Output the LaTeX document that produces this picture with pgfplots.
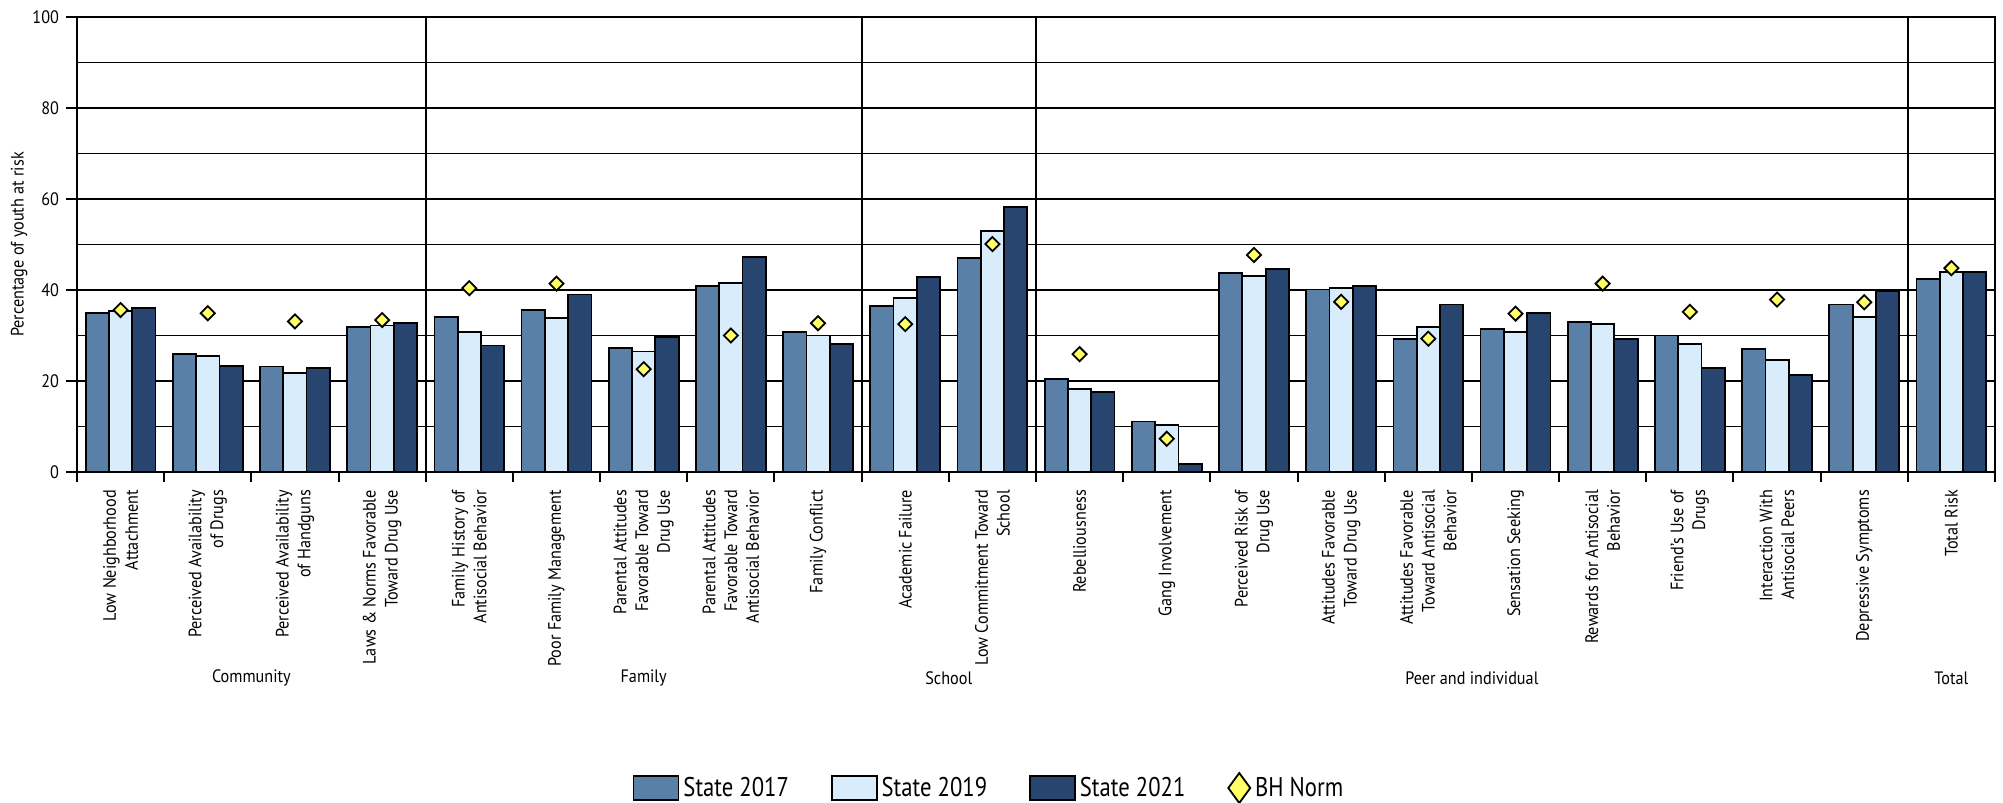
\documentclass[border=0pt]{standalone}
\usepackage{fontspec}
\setmainfont{PT Sans}[FakeStretch=0.9]
\newfontfamily\legfont{PT Sans}[FakeStretch=0.84]
\usepackage{pgfplots}
\pgfplotsset{compat=1.18}
\usepackage{pgfplotstable}

\definecolor{c17}{HTML}{5B80A8}
\definecolor{c19}{HTML}{D9ECFC}
\definecolor{c21}{HTML}{27456F}
\definecolor{bhyellow}{HTML}{FFFF66}

% x = category index, a/b/c = State 2017/2019/2021, n = BH Norm
\pgfplotstableread{
x a b c n
0 34.9 35.3 36.0 35.6
1 25.9 25.5 23.3 34.9
2 23.2 21.7 22.9 33.1
3 31.8 32.2 32.7 33.4
4 34.1 30.7 27.8 40.4
5 35.6 33.8 39.0 41.4
6 27.3 26.5 29.6 22.6
7 40.9 41.6 47.3 30.0
8 30.7 30.0 28.1 32.7
9 36.4 38.3 42.8 32.5
10 47.0 53.0 58.2 50.1
11 20.5 18.3 17.5 25.9
12 11.1 10.3 1.8 7.3
13 43.8 43.1 44.7 47.7
14 40.1 40.5 40.9 37.4
15 29.2 31.9 36.8 29.3
16 31.4 30.7 34.9 34.8
17 33.0 32.6 29.2 41.4
18 30.0 28.1 22.8 35.2
19 27.0 24.7 21.4 37.9
20 36.8 34.1 39.8 37.3
21 42.4 43.9 43.9 44.8
}\data

\begin{document}
\begin{tikzpicture}
\begin{axis}[
    name=ax,
    scale only axis,
    width=959pt, height=227.5pt,
    xmin=-0.5, xmax=21.5,
    ymin=0, ymax=100,
    clip=false,
    axis line style={line width=1.1pt},
    tick align=outside,
    major tick length=5.5pt,
    minor tick length=5pt,
    every tick/.style={black, line width=1pt},
    xtick={0,...,21},
    major x tick style={draw=none},
    minor xtick={-0.5,0.5,...,21.5},
    xtick pos=lower,
    ytick pos=left,
    ytick={0,20,...,100},
    minor ytick={10,30,...,90},
    minor y tick style={draw=none},
    ymajorgrids, yminorgrids,
    major grid style={black, line width=0.9pt},
    minor grid style={black, line width=0.9pt},
    extra x ticks={3.5,8.5,10.5,20.5},
    extra x tick labels={},
    extra x tick style={grid=major},
    /pgf/number format/assume math mode=true,
    yticklabel style={font=\fontsize{9}{10}\selectfont},
    xticklabels={
        {Low Neighborhood\\Attachment},
        {Perceived Availability\\of Drugs},
        {Perceived Availability\\of Handguns},
        {Laws \& Norms Favorable\\Toward Drug Use},
        {Family History of\\Antisocial Behavior},
        {Poor Family Management},
        {Parental Attitudes\\Favorable Toward\\Drug Use},
        {Parental Attitudes\\Favorable Toward\\Antisocial Behavior},
        {Family Conflict},
        {Academic Failure},
        {Low Commitment Toward\\School},
        {Rebelliousness},
        {Gang Involvement},
        {Perceived Risk of\\Drug Use},
        {Attitudes Favorable\\Toward Drug Use},
        {Attitudes Favorable\\Toward Antisocial\\Behavior},
        {Sensation Seeking},
        {Rewards for Antisocial\\Behavior},
        {Friend's Use of\\Drugs},
        {Interaction With\\Antisocial Peers},
        {Depressive Symptoms},
        {Total Risk}},
    xticklabel style={rotate=90, anchor=east, align=right,
        font=\fontsize{9}{10.9}\selectfont},
    every axis y label/.style={at={(axis description cs:-0.0302,0.5)},
        rotate=90, anchor=center},
    ylabel={Percentage of youth at risk},
    ylabel style={font=\fontsize{9}{10}\selectfont},
    legend columns=4,
    legend style={draw=none, at={(0.476,-0.6945)}, anchor=center,
        font=\legfont\fontsize{13.5}{15}\selectfont,
        /tikz/every even column/.append style={column sep=19pt}},
]
\addplot[ybar, bar width=0.267, bar shift=-0.267, fill=c17, draw=black, line width=0.9pt,
    legend image code/.code={\draw[fill=c17, draw=black, line width=0.9pt] (0pt,-6pt) rectangle (22.5pt,6pt);}]
    table[x=x, y=a]{\data};
\addlegendentry{State 2017}
\addplot[ybar, bar width=0.267, bar shift=0, fill=c19, draw=black, line width=0.9pt,
    legend image code/.code={\draw[fill=c19, draw=black, line width=0.9pt] (0pt,-6pt) rectangle (22.5pt,6pt);}]
    table[x=x, y=b]{\data};
\addlegendentry{State 2019}
\addplot[ybar, bar width=0.267, bar shift=0.267, fill=c21, draw=black, line width=0.9pt,
    legend image code/.code={\draw[fill=c21, draw=black, line width=0.9pt] (0pt,-6pt) rectangle (22.5pt,6pt);}]
    table[x=x, y=c]{\data};
\addlegendentry{State 2021}
\addplot[only marks, mark=square*, mark size=2.5pt,
    mark options={rotate=45, fill=bhyellow, draw=black, line width=0.9pt},
    legend image code/.code={\draw[fill=bhyellow, draw=black, line width=0.9pt]
        (11pt,-7.5pt) -- (16.5pt,0pt) -- (11pt,7.5pt) -- (5.5pt,0pt) -- cycle;}]
    table[x=x, y=n]{\data};
\addlegendentry{BH Norm}

\node[font=\fontsize{9}{10}\selectfont] at (axis cs:1.5,0) [yshift=-103pt] {Community};
\node[font=\fontsize{9}{10}\selectfont] at (axis cs:6,0) [yshift=-103pt] {Family};
\node[font=\fontsize{9}{10}\selectfont] at (axis cs:9.5,0) [yshift=-103pt] {School};
\node[font=\fontsize{9}{10}\selectfont] at (axis cs:15.5,0) [yshift=-103pt] {Peer and individual};
\node[font=\fontsize{9}{10}\selectfont] at (axis cs:21,0) [yshift=-103pt] {Total};
\end{axis}
\pgfresetboundingbox
\useasboundingbox ([xshift=-38.5pt,yshift=-165.5pt]ax.south west) rectangle ([xshift=4pt,yshift=8.5pt]ax.north east);
\end{tikzpicture}
\end{document}
